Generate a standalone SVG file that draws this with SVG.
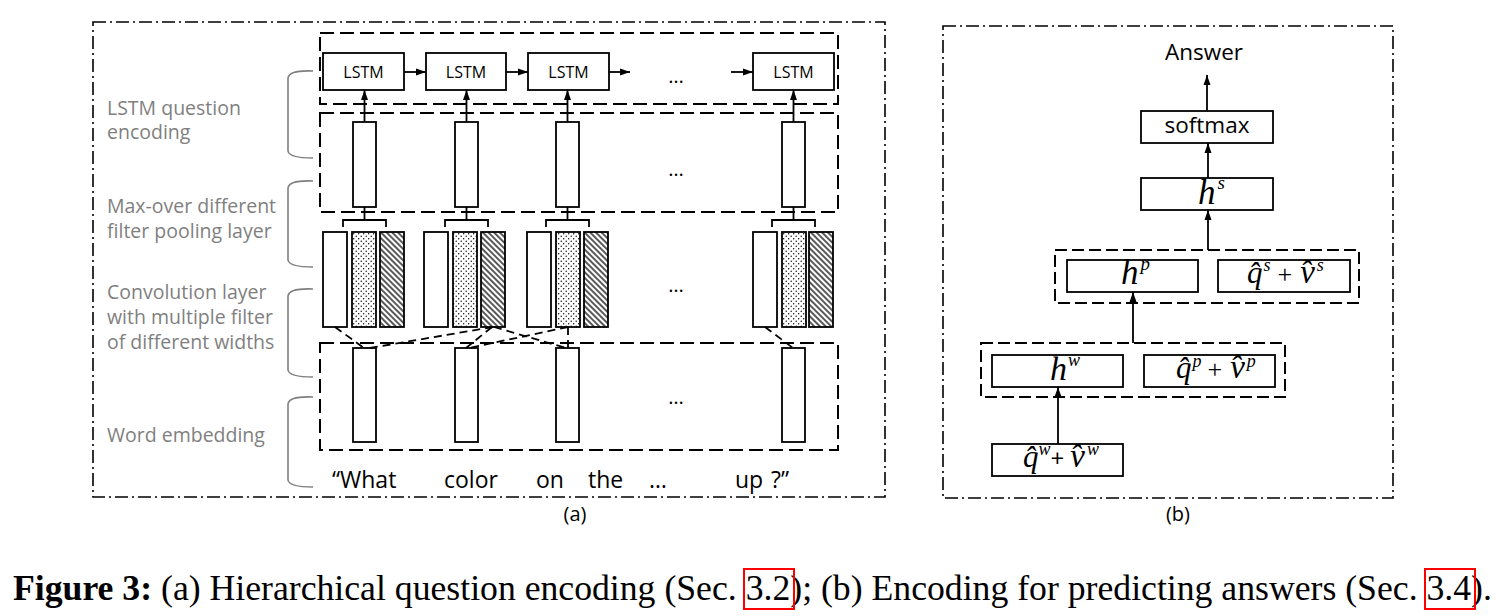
<svg xmlns="http://www.w3.org/2000/svg" width="1506" height="616" viewBox="0 0 1506 616">
<defs>
<marker id="ah" viewBox="0 0 10 10" refX="10" refY="5" markerWidth="10" markerHeight="10" markerUnits="userSpaceOnUse" orient="auto"><path d="M0,1.5 L10,5 L0,8.5 z" fill="#000"/></marker>
<pattern id="dots" width="5" height="5" patternUnits="userSpaceOnUse"><rect width="5" height="5" fill="#fff"/><circle cx="1.2" cy="1.2" r="0.7" fill="#000"/><circle cx="3.7" cy="3.7" r="0.7" fill="#000"/></pattern>
<pattern id="hatch" width="4" height="4" patternUnits="userSpaceOnUse" patternTransform="rotate(-45)"><rect width="4" height="4" fill="#fff"/><line x1="1" y1="0" x2="1" y2="4" stroke="#000" stroke-width="1.3"/></pattern>
</defs>
<style>
.frame{fill:none;stroke:#000;stroke-width:1.6;stroke-dasharray:13 4 2 4}
.dbox{fill:none;stroke:#000;stroke-width:2;stroke-dasharray:14 6}
.box{fill:#fff;stroke:#000;stroke-width:1.8}
.vec{fill:#fff;stroke:#000;stroke-width:1.8}
.dot{fill:url(#dots);stroke:#000;stroke-width:1.8}
.hat{fill:url(#hatch);stroke:#000;stroke-width:1.8}
.arr{stroke:#000;stroke-width:1.8;fill:none;marker-end:url(#ah)}
.cross{stroke:#000;stroke-width:1.8;fill:none;stroke-dasharray:8 5}
.br{stroke:#000;stroke-width:1.8;fill:none}
.gbr{stroke:#7f7f7f;stroke-width:1.6;fill:none}
.lbl{font-family:"Open Sans",sans-serif;font-size:19.5px;fill:#7f7f7f}
.sans{font-family:"Open Sans",sans-serif;fill:#000}
.lstm{font-family:"Open Sans",sans-serif;font-size:16px;fill:#000;text-anchor:middle}
.word{font-family:"Open Sans",sans-serif;font-size:23px;fill:#000}
.ell{font-family:"Open Sans",sans-serif;font-size:20px;fill:#000;text-anchor:middle}
.mi{font-family:"Liberation Serif",serif;font-style:italic;fill:#000}
.mr{font-family:"Liberation Serif",serif;fill:#000}
.cap{font-family:"Liberation Serif",serif;font-size:35.7px;fill:#000}
</style>
<rect width="1506" height="616" fill="#fff"/>

<!-- frames -->
<rect id="frame-a" class="frame" x="93" y="22" width="792" height="475"/>
<rect id="frame-b" class="frame" x="943" y="26" width="450" height="472"/>

<!-- left labels and brackets -->
<g id="label-lstm">
<path class="gbr" d="M313,71 Q289,70 288,78 L288,151 Q289,158 313,158"/>
<text class="lbl" x="107" y="115">LSTM question</text>
<text class="lbl" x="107" y="139">encoding</text>
</g>
<g id="label-pool">
<path class="gbr" d="M313,181 Q289,180 288,188 L288,260 Q289,267 313,267"/>
<text class="lbl" x="107" y="213">Max-over different</text>
<text class="lbl" x="107" y="238">filter pooling layer</text>
</g>
<g id="label-conv">
<path class="gbr" d="M313,289 Q289,288 288,296 L288,370 Q289,377 313,377"/>
<text class="lbl" x="107" y="299">Convolution layer</text>
<text class="lbl" x="107" y="324">with multiple filter</text>
<text class="lbl" x="107" y="349">of different widths</text>
</g>
<g id="label-embed">
<path class="gbr" d="M313,397 Q289,396 288,404 L288,480 Q289,487 313,487"/>
<text class="lbl" x="107" y="442">Word embedding</text>
</g>

<!-- layer boxes -->
<g id="layer-lstm">
<rect class="dbox" x="320" y="33" width="518" height="71"/>
<g id="lstm1"><rect class="box" x="323" y="53" width="81" height="37"/><text class="lstm" x="363.5" y="77.5">LSTM</text></g>
<g id="lstm2"><rect class="box" x="426" y="53" width="80" height="37"/><text class="lstm" x="466" y="77.5">LSTM</text></g>
<g id="lstm3"><rect class="box" x="528" y="53" width="81" height="37"/><text class="lstm" x="568.5" y="77.5">LSTM</text></g>
<g id="lstm4"><rect class="box" x="753" y="53" width="81" height="37"/><text class="lstm" x="793.5" y="77.5">LSTM</text></g>
<text class="ell" x="676" y="83">…</text>
</g>

<g id="layer-pool">
<rect class="dbox" x="320" y="113" width="518" height="99"/>
<rect class="vec" x="353" y="122" width="23" height="85"/>
<rect class="vec" x="455" y="122" width="23" height="85"/>
<rect class="vec" x="556" y="122" width="23" height="85"/>
<rect class="vec" x="782" y="122" width="23" height="85"/>
<text class="ell" x="676" y="176">…</text>
</g>

<g id="layer-conv">
<rect class="vec" x="323" y="232" width="24" height="95"/><rect class="dot" x="352" y="232" width="24" height="95"/><rect class="hat" x="380" y="232" width="24" height="95"/>
<rect class="vec" x="424" y="232" width="24" height="95"/><rect class="dot" x="453" y="232" width="24" height="95"/><rect class="hat" x="481" y="232" width="24" height="95"/>
<rect class="vec" x="527" y="232" width="24" height="95"/><rect class="dot" x="556" y="232" width="24" height="95"/><rect class="hat" x="584" y="232" width="24" height="95"/>
<rect class="vec" x="753" y="232" width="24" height="95"/><rect class="dot" x="782" y="232" width="24" height="95"/><rect class="hat" x="809" y="232" width="24" height="95"/>
<text class="ell" x="676" y="292">…</text>
</g>

<g id="layer-embed">
<rect class="dbox" x="320" y="343" width="518" height="107"/>
<rect class="vec" x="353" y="348" width="23" height="94"/>
<rect class="vec" x="455" y="348" width="23" height="94"/>
<rect class="vec" x="556" y="348" width="23" height="94"/>
<rect class="vec" x="782" y="348" width="23" height="94"/>
<text class="ell" x="676" y="404">…</text>
</g>

<g id="words">
<text class="word" x="332" y="488">“What</text>
<text class="word" x="444" y="488">color</text>
<text class="word" x="536" y="488">on</text>
<text class="word" x="588" y="488">the</text>
<text class="word" x="649" y="488">…</text>
<text class="word" x="735" y="488">up</text>
<text class="word" x="771" y="488">?”</text>
</g>
<text class="sans" x="575" y="521" font-size="20" text-anchor="middle">(a)</text>

<!-- panel b nodes -->
<text id="answer" class="sans" x="1204" y="60" font-size="22.5" text-anchor="middle">Answer</text>
<g id="softmax"><rect class="box" x="1141" y="111" width="132" height="32"/><text class="sans" x="1207" y="133" font-size="22.5" text-anchor="middle">softmax</text></g>
<g id="hs"><rect class="box" x="1141" y="178" width="132" height="32"/><text class="mi" x="1198" y="204" font-size="35">h<tspan dx="2" dy="-15" font-size="19">s</tspan></text></g>
<g id="group-p"><rect class="dbox" x="1055" y="250" width="304" height="53" style="stroke-dasharray:12 5"/></g>
<g id="hp"><rect class="box" x="1067" y="260" width="131" height="32"/><text class="mi" x="1121" y="284" font-size="35">h<tspan dx="2" dy="-14" font-size="19">p</tspan></text></g>
<g id="qvs"><rect class="box" x="1218" y="260" width="132" height="32"/>
<text class="mi" x="1247" y="283" font-size="31">q̂<tspan dx="1" dy="-12" font-size="18">s</tspan><tspan class="mr" dx="7" dy="12" font-size="26" font-style="normal">+</tspan><tspan dx="8" font-size="33">v̂</tspan><tspan dx="2" dy="-12" font-size="18">s</tspan></text></g>
<g id="group-w"><rect class="dbox" x="981" y="343" width="304" height="54" style="stroke-dasharray:12 5"/></g>
<g id="hw"><rect class="box" x="992" y="355" width="131" height="32"/><text class="mi" x="1050" y="380" font-size="34">h<tspan dx="1" dy="-14" font-size="18">w</tspan></text></g>
<g id="qvp"><rect class="box" x="1144" y="355" width="131" height="32"/>
<text class="mi" x="1176" y="378" font-size="31">q̂<tspan dx="1" dy="-11" font-size="18">p</tspan><tspan dx="6" dy="11" font-size="26" font-style="normal">+</tspan><tspan dx="8" font-size="33">v̂</tspan><tspan dx="2" dy="-11" font-size="18">p</tspan></text></g>
<g id="qvw"><rect class="box" x="992" y="444" width="131" height="32"/>
<text class="mi" x="1023" y="467" font-size="31">q̂<tspan dx="0" dy="-12" font-size="18">w</tspan><tspan dx="0" dy="12" font-size="24" font-style="normal" font-family="Open Sans, sans-serif">+</tspan><tspan dx="6" font-size="33">v̂</tspan><tspan dx="2" dy="-12" font-size="18">w</tspan></text></g>
<text class="sans" x="1178" y="521" font-size="20" text-anchor="middle">(b)</text>

<!-- connectors -->
<g id="connectors">
<line class="arr" x1="404" y1="72" x2="426" y2="72"/>
<line class="arr" x1="506" y1="72" x2="528" y2="72"/>
<line class="arr" x1="609" y1="72" x2="630" y2="72"/>
<line class="arr" x1="731" y1="72" x2="753" y2="72"/>
<line class="arr" x1="364.5" y1="122" x2="364.5" y2="90"/>
<line class="arr" x1="466.5" y1="122" x2="466.5" y2="90"/>
<line class="arr" x1="567.5" y1="122" x2="567.5" y2="90"/>
<line class="arr" x1="793.5" y1="122" x2="793.5" y2="90"/>
<path class="br" d="M343,227 L343,220 L386,220 L386,227 M364.5,220 L364.5,207"/>
<path class="br" d="M445,227 L445,220 L488,220 L488,227 M466.5,220 L466.5,207"/>
<path class="br" d="M546,227 L546,220 L589,220 L589,227 M567.5,220 L567.5,207"/>
<path class="br" d="M772,227 L772,220 L815,220 L815,227 M793.5,220 L793.5,207"/>
<line class="cross" x1="335" y1="327" x2="364" y2="348"/>
<line class="cross" x1="493" y1="327" x2="370" y2="348"/>
<line class="cross" x1="492" y1="327" x2="466" y2="348"/>
<line class="cross" x1="568" y1="327" x2="469" y2="348"/>
<line class="cross" x1="494" y1="327" x2="566" y2="348"/>
<line class="cross" x1="568" y1="327" x2="568" y2="348"/>
<line class="cross" x1="765" y1="327" x2="793" y2="348"/>
<line class="arr" x1="1207" y1="111" x2="1207" y2="75"/>
<line class="arr" x1="1208" y1="178" x2="1208" y2="143"/>
<line class="arr" x1="1208" y1="250" x2="1208" y2="210"/>
<line class="arr" x1="1133" y1="343" x2="1133" y2="292"/>
<line class="arr" x1="1058" y1="444" x2="1058" y2="387"/>
</g>

<!-- caption -->
<text class="cap" x="13" y="600"><tspan font-weight="bold">Figure 3:</tspan> (a) Hierarchical question encoding (Sec. 3.2); (b) Encoding for predicting answers (Sec. 3.4).</text>
<rect x="744" y="569" width="50" height="40" fill="none" stroke="#ff0000" stroke-width="2"/>
<rect x="1425" y="569" width="50" height="40" fill="none" stroke="#ff0000" stroke-width="2"/>
</svg>
